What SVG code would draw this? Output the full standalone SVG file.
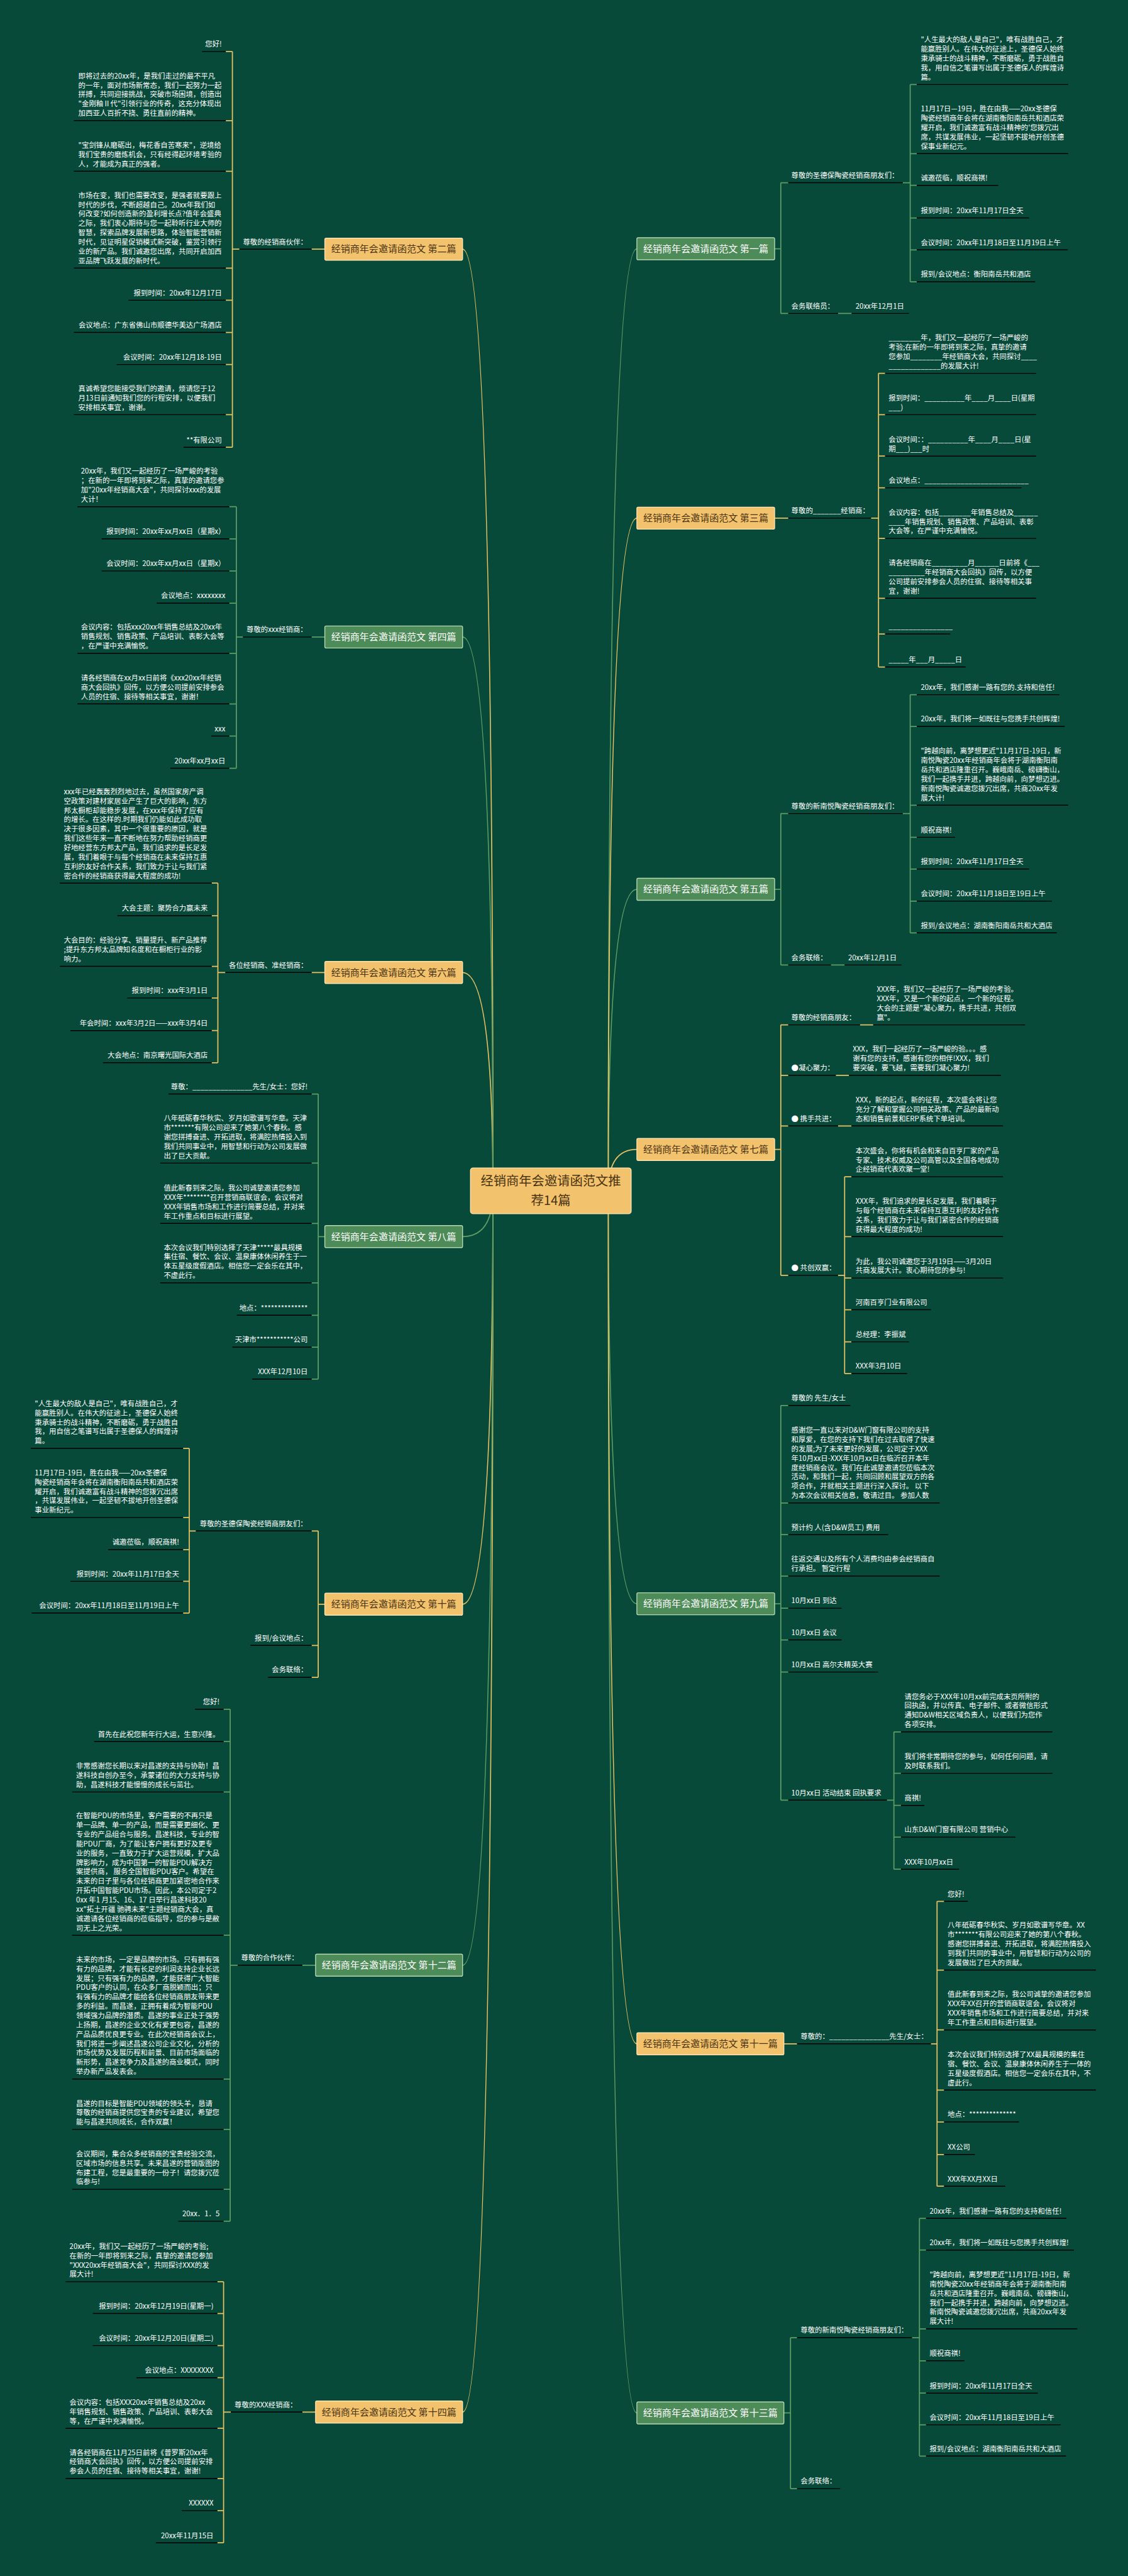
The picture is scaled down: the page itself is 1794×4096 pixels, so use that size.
<svg xmlns="http://www.w3.org/2000/svg" width="1794" height="4096" viewBox="0 0 1794 4096">
<style>
.t{font-family:"Noto Sans CJK SC","Noto Sans",sans-serif;font-size:16.3px;fill:#fff}
.e{text-anchor:end}
.u{stroke:#000;stroke-width:2;fill:none}
.cy{fill:none;stroke:#e8c262;stroke-width:2.5}
.cg{fill:none;stroke:#5e9e64;stroke-width:2.5}
.bo{fill:#f3c26c;stroke:#fae3b0;stroke-width:2}
.bg{fill:#4d8b58;stroke:#b5d8b0;stroke-width:2}
.bt{font-family:"Noto Sans CJK SC","Noto Sans",sans-serif;font-size:21.5px;text-anchor:middle}
.bto{fill:#4a3413}
.btg{fill:#fff}
</style>
<rect width="1794" height="4096" fill="#084a3a"/>
<g transform="scale(0.7)">
<g id="connectors">
<path class="cy" d="M1120 2705Q1120 566 1051 566M1120 2705Q1120 2209 1051 2209M1120 2705Q1120 3644 1051 3644M1120 2705Q1120 5479 1051 5479"/>
<path class="cg" d="M1120 2705Q1120 1447 1051 1447M1120 2705Q1120 2809 1051 2809M1120 2705Q1120 4464 1051 4464"/>
<path class="cg" d="M1382 2705Q1382 565 1447 565M1382 2705Q1382 2020 1447 2020M1382 2705Q1382 3643 1447 3643M1382 2705Q1382 5481 1447 5481"/>
<path class="cy" d="M1382 2705Q1382 1177 1447 1177M1382 2705Q1382 2611 1447 2611M1382 2705Q1382 4642.5 1447 4642.5"/>
<path class="cy" d="M528 117V1016M513 117H528M513 274H528M513 389H528M513 609H528M513 682H528M513 755H528M513 828H528M513 942H528M513 1016H528M528 566H544M708 566H738"/>
<path class="cg" d="M537 1151V1745M521 1151H537M521 1224H537M521 1297H537M521 1370H537M521 1484H537M521 1599H537M521 1672H537M521 1745H537M537 1447H552M708 1447H738"/>
<path class="cy" d="M495 2006V2414M481 2006H495M481 2080H495M481 2195H495M481 2267H495M481 2341H495M481 2414H495M495 2209H512M708 2209H738"/>
<path class="cg" d="M723 2485V3132.5M708 2485H723M708 2642H723M708 2779H723M708 2914H723M708 2987.5H723M708 3060H723M708 3132.5H723M723 2809H738"/>
<path class="cy" d="M430 3290V3664M416 3290H430M416 3447H430M416 3520H430M416 3592H430M416 3664H430M430 3477.5H445M723 3477.5V3810M708 3477.5H723M708 3737.5H723M708 3810H723M723 3644H738"/>
<path class="cg" d="M523 3882.5V5045.6M508 3882.5H523M508 3956H523M508 4070.6H523M508 4396H523M508 4722.5H523M508 4837H523M508 4973H523M508 5045.6H523M523 4464H540M687 4464H717"/>
<path class="cy" d="M508 5183V5776M494 5183H508M494 5255H508M494 5328H508M494 5401H508M494 5516H508M494 5630H508M494 5703H508M494 5776H508M508 5479H524.5M687 5479H717"/>
<path class="cg" d="M1760 565H1774M1774 415V712M1774 415H1791M1774 712H1791M1904 712H1935M2051 415H2068M2068 192V640M2068 192H2083M2068 349H2083M2068 421H2083M2068 495H2083M2068 567.5H2083M2068 640H2083"/>
<path class="cy" d="M1760 1177H1791M1979 1177H1996M1996 848V1515M1996 848H2011M1996 942H2011M1996 1036H2011M1996 1108H2011M1996 1223H2011M1996 1359H2011M1996 1440H2011M1996 1515H2011"/>
<path class="cg" d="M1760 2020H1774M1774 1848V2192M1774 1848H1791M1774 2192H1791M2051 1848H2068M1888 2192H1919M2068 1578V2119M2068 1578H2083M2068 1650H2083M2068 1829H2083M2068 1902H2083M2068 1974H2083M2068 2047H2083M2068 2119H2083"/>
<path class="cy" d="M1760 2611H1774M1774 2328V2897M1774 2328H1791M1774 2442.5H1791M1774 2557.5H1791M1774 2897H1791M1954 2328H1984M1899 2442.5H1929M1904 2557.5H1934.5M1904 2897H1919M1919 2673V3120M1919 2673H1934.5M1919 2809H1934.5M1919 2903H1934.5M1919 2975H1934.5M1919 3048H1934.5M1919 3120H1934.5"/>
<path class="cg" d="M1760 3643H1774M1774 3192.5V4089M1774 3192.5H1791M1774 3414H1791M1774 3486H1791M1774 3580H1791M1774 3653H1791M1774 3725H1791M1774 3798H1791M1774 4089H1791M2015 4089H2031M2031 3934V4246M2031 3934H2047M2031 4028H2047M2031 4101H2047M2031 4173H2047M2031 4246H2047"/>
<path class="cy" d="M1781 4642.5H1811M2115 4642.5H2129M2129 4319V4966M2129 4319H2145M2129 4475H2145M2129 4611H2145M2129 4747.5H2145M2129 4820H2145M2129 4894H2145M2129 4966H2145"/>
<path class="cg" d="M1781 5481H1796M1796 5310V5653M1796 5310H1811M1796 5653H1811M2072 5310H2089M2089 5039V5579M2089 5039H2104M2089 5111H2104M2089 5290H2104M2089 5362.5H2104M2089 5436H2104M2089 5508H2104M2089 5579H2104"/>
</g>

<g id="root"><rect x="1069" y="2653" width="365" height="104" rx="6" class="bo"/><text class="bt bto" style="font-size:29px" x="1251.5" y="2693">经销商年会邀请函范文推</text><text class="bt bto" style="font-size:29px" x="1251.5" y="2737">荐14篇</text></g>

<g id="b1"><rect x="1447" y="540" width="313" height="50" rx="3" class="bg"/><text class="bt btg" x="1603.5" y="572.5">经销商年会邀请函范文 第一篇</text></g>
<g id="b2"><rect x="738" y="541" width="313" height="50" rx="3" class="bo"/><text class="bt bto" x="894.5" y="573.5">经销商年会邀请函范文 第二篇</text></g>
<g id="b3"><rect x="1447" y="1152" width="313" height="50" rx="3" class="bo"/><text class="bt bto" x="1603.5" y="1184.5">经销商年会邀请函范文 第三篇</text></g>
<g id="b4"><rect x="738" y="1422" width="313" height="50" rx="3" class="bg"/><text class="bt btg" x="894.5" y="1454.5">经销商年会邀请函范文 第四篇</text></g>
<g id="b5"><rect x="1447" y="1995" width="313" height="50" rx="3" class="bg"/><text class="bt btg" x="1603.5" y="2027.5">经销商年会邀请函范文 第五篇</text></g>
<g id="b6"><rect x="738" y="2184" width="313" height="50" rx="3" class="bo"/><text class="bt bto" x="894.5" y="2216.5">经销商年会邀请函范文 第六篇</text></g>
<g id="b7"><rect x="1447" y="2586" width="313" height="50" rx="3" class="bo"/><text class="bt bto" x="1603.5" y="2618.5">经销商年会邀请函范文 第七篇</text></g>
<g id="b8"><rect x="738" y="2784" width="313" height="50" rx="3" class="bg"/><text class="bt btg" x="894.5" y="2816.5">经销商年会邀请函范文 第八篇</text></g>
<g id="b9"><rect x="1447" y="3618" width="313" height="50" rx="3" class="bg"/><text class="bt btg" x="1603.5" y="3650.5">经销商年会邀请函范文 第九篇</text></g>
<g id="b10"><rect x="738" y="3619" width="313" height="50" rx="3" class="bo"/><text class="bt bto" x="894.5" y="3651.5">经销商年会邀请函范文 第十篇</text></g>
<g id="b11"><rect x="1447" y="4617.5" width="334" height="50" rx="3" class="bo"/><text class="bt bto" x="1614" y="4650">经销商年会邀请函范文 第十一篇</text></g>
<g id="b12"><rect x="717" y="4439" width="334" height="50" rx="3" class="bg"/><text class="bt btg" x="884" y="4471.5">经销商年会邀请函范文 第十二篇</text></g>
<g id="b13"><rect x="1447" y="5456" width="334" height="50" rx="3" class="bg"/><text class="bt btg" x="1614" y="5488.5">经销商年会邀请函范文 第十三篇</text></g>
<g id="b14"><rect x="717" y="5454" width="334" height="50" rx="3" class="bo"/><text class="bt bto" x="884" y="5486.5">经销商年会邀请函范文 第十四篇</text></g>

<!-- 第二篇 -->
<g id="s2"><text class="t" x="552" y="555">尊敬的经销商伙伴：</text><path class="u" d="M544 566H708"/></g>
<g id="n2-1"><text class="t e" x="504" y="106">您好!</text><path class="u" d="M459 117H513"/></g>
<g id="n2-2"><text class="t" x="178"><tspan x="178" y="178.2">即将过去的20xx年，是我们走过的最不平凡</tspan><tspan x="178" y="199.4">的一年，面对市场新常态，我们一起努力一起</tspan><tspan x="178" y="220.6">拼搏，共同迎接挑战，突破市场困境，创造出</tspan><tspan x="178" y="241.8">"金刚釉Ⅱ代"引领行业的传奇，这充分体现出</tspan><tspan x="178" y="263">加西亚人百折不挠、勇往直前的精神。</tspan></text><path class="u" d="M168 274H513"/></g>
<g id="n2-3"><text class="t"><tspan x="178" y="335.6">"宝剑锋从磨砺出，梅花香自苦寒来"，逆境给</tspan><tspan x="178" y="356.8">我们宝贵的磨炼机会，只有经得起环境考验的</tspan><tspan x="178" y="378">人，才能成为真正的强者。</tspan></text><path class="u" d="M168 389H513"/></g>
<g id="n2-4"><text class="t"><tspan x="178" y="449.6">市场在变，我们也需要改变，是强者就要跟上</tspan><tspan x="178" y="470.8">时代的步伐，不断超越自己。20xx年我们如</tspan><tspan x="178" y="492">何改变?如何创造新的盈利增长点?值年会盛典</tspan><tspan x="178" y="513.2">之际，我们衷心期待与您一起聆听行业大师的</tspan><tspan x="178" y="534.4">智慧，探索品牌发展新思路，体验智能营销新</tspan><tspan x="178" y="555.6">时代，见证明星促销模式新突破，鉴赏引领行</tspan><tspan x="178" y="576.8">业的新产品。我们诚邀您出席，共同开启加西</tspan><tspan x="178" y="598">亚品牌飞跃发展的新时代。</tspan></text><path class="u" d="M168 609H513"/></g>
<g id="n2-5"><text class="t e" x="504" y="671">报到时间：20xx年12月17日</text><path class="u" d="M292 682H513"/></g>
<g id="n2-6"><text class="t e" x="504" y="744">会议地点：广东省佛山市顺德华美达广场酒店</text><path class="u" d="M168 755H513"/></g>
<g id="n2-7"><text class="t e" x="504" y="817">会议时间：20xx年12月18-19日</text><path class="u" d="M265 828H513"/></g>
<g id="n2-8"><text class="t"><tspan x="178" y="888.6">真诚希望您能接受我们的邀请，烦请您于12</tspan><tspan x="178" y="909.8">月13日前通知我们您的行程安排，以便我们</tspan><tspan x="178" y="931">安排相关事宜，谢谢。</tspan></text><path class="u" d="M168 942H513"/></g>
<g id="n2-9"><text class="t e" x="504" y="1005">**有限公司</text><path class="u" d="M417 1016H513"/></g>

<!-- 第四篇 -->
<g id="s4"><text class="t" x="560" y="1436">尊敬的xxx经销商：</text><path class="u" d="M552 1447H708"/></g>
<g id="n4-1"><text class="t"><tspan x="184" y="1076.4">20xx年，我们又一起经历了一场严峻的考验</tspan><tspan x="184" y="1097.6">；在新的一年即将到来之际，真挚的邀请您参</tspan><tspan x="184" y="1118.8">加"20xx年经销商大会"，共同探讨xxx的发展</tspan><tspan x="184" y="1140">大计！</tspan></text><path class="u" d="M176 1151H521"/></g>
<g id="n4-2"><text class="t e" x="512" y="1213">报到时间：20xx年xx月xx日（星期x）</text><path class="u" d="M231 1224H521"/></g>
<g id="n4-3"><text class="t e" x="512" y="1286">会议时间：20xx年xx月xx日（星期x）</text><path class="u" d="M231 1297H521"/></g>
<g id="n4-4"><text class="t e" x="512" y="1359">会议地点：xxxxxxxx</text><path class="u" d="M356 1370H521"/></g>
<g id="n4-5"><text class="t"><tspan x="184" y="1430.6">会议内容：包括xxx20xx年销售总结及20xx年</tspan><tspan x="184" y="1451.8">销售规划、销售政策、产品培训、表彰大会等</tspan><tspan x="184" y="1473">，在严谨中充满愉悦。</tspan></text><path class="u" d="M176 1484H521"/></g>
<g id="n4-6"><text class="t"><tspan x="184" y="1545.6">请各经销商在xx月xx日前将《xxx20xx年经销</tspan><tspan x="184" y="1566.8">商大会回执》回传，以方便公司提前安排参会</tspan><tspan x="184" y="1588">人员的住宿、接待等相关事宜，谢谢！</tspan></text><path class="u" d="M176 1599H521"/></g>
<g id="n4-7"><text class="t e" x="512" y="1661">xxx</text><path class="u" d="M480 1672H521"/></g>
<g id="n4-8"><text class="t e" x="512" y="1734">20xx年xx月xx日</text><path class="u" d="M387 1745H521"/></g>

<!-- 第六篇 -->
<g id="s6"><text class="t" x="520" y="2198">各位经销商、准经销商：</text><path class="u" d="M512 2209H708"/></g>
<g id="n6-1"><text class="t"><tspan x="145" y="1804.2">xxx年已经轰轰烈烈地过去，虽然国家房产调</tspan><tspan x="145" y="1825.4">空政策对建材家居业产生了巨大的影响，东方</tspan><tspan x="145" y="1846.6">邦太橱柜却能稳步发展，在xxx年保持了应有</tspan><tspan x="145" y="1867.8">的增长。在这样的.时期我们仍能如此成功取</tspan><tspan x="145" y="1889">决于很多因素，其中一个很重要的原因，就是</tspan><tspan x="145" y="1910.2">我们这些年来一直不断地在努力帮助经销商更</tspan><tspan x="145" y="1931.4">好地经营东方邦太产品，我们追求的是长足发</tspan><tspan x="145" y="1952.6">展，我们着眼于与每个经销商在未来保持互惠</tspan><tspan x="145" y="1973.8">互利的友好合作关系，我们致力于让与我们紧</tspan><tspan x="145" y="1995">密合作的经销商获得最大程度的成功!</tspan></text><path class="u" d="M136 2006H481"/></g>
<g id="n6-2"><text class="t e" x="472" y="2069">大会主题：聚势合力赢未来</text><path class="u" d="M267 2080H481"/></g>
<g id="n6-3"><text class="t"><tspan x="145" y="2141.6">大会目的：经验分享、销量提升、新产品推荐</tspan><tspan x="145" y="2162.8">;提升东方邦太品牌知名度和在橱柜行业的影</tspan><tspan x="145" y="2184">响力。</tspan></text><path class="u" d="M136 2195H481"/></g>
<g id="n6-4"><text class="t e" x="472" y="2256">报到时间：xxx年3月1日</text><path class="u" d="M289 2267H481"/></g>
<g id="n6-5"><text class="t e" x="472" y="2330">年会时间：xxx年3月2日——xxx年3月4日</text><path class="u" d="M160 2341H481"/></g>
<g id="n6-6"><text class="t e" x="472" y="2403">大会地点：南京曙光国际大酒店</text><path class="u" d="M234 2414H481"/></g>

<!-- 第八篇 -->
<g id="n8-1"><text class="t e" x="699" y="2474">尊敬：_______________先生/女士：您好!</text><path class="u" d="M383 2485H708"/></g>
<g id="n8-2"><text class="t"><tspan x="372" y="2546.2">八年砥砺春华秋实、岁月如歌谱写华章。天津</tspan><tspan x="372" y="2567.4">市*******有限公司迎来了她第八个春秋。感</tspan><tspan x="372" y="2588.6">谢您拼搏奋进、开拓进取，将满腔热情投入到</tspan><tspan x="372" y="2609.8">我们共同事业中，用智慧和行动为公司发展做</tspan><tspan x="372" y="2631">出了巨大贡献。</tspan></text><path class="u" d="M364 2642H708"/></g>
<g id="n8-3"><text class="t"><tspan x="372" y="2704.4">值此新春到来之际，我公司诚挚邀请您参加</tspan><tspan x="372" y="2725.6">XXX年********召开营销商联谊会，会议将对</tspan><tspan x="372" y="2746.8">XXX年销售市场和工作进行简要总结，并对来</tspan><tspan x="372" y="2768">年工作重点和目标进行展望。</tspan></text><path class="u" d="M364 2779H708"/></g>
<g id="n8-4"><text class="t"><tspan x="372" y="2839.4">本次会议我们特别选择了天津*****最具规模</tspan><tspan x="372" y="2860.6">集住宿、餐饮、会议、温泉康体休闲养生于一</tspan><tspan x="372" y="2881.8">体五星级度假酒店。相信您一定会乐在其中，</tspan><tspan x="372" y="2903">不虚此行。</tspan></text><path class="u" d="M364 2914H708"/></g>
<g id="n8-5"><text class="t e" x="699" y="2976.5">地点：**************</text><path class="u" d="M538 2987.5H708"/></g>
<g id="n8-6"><text class="t e" x="699" y="3049">天津市***********公司</text><path class="u" d="M528 3060H708"/></g>
<g id="n8-7"><text class="t e" x="699" y="3121.5">XXX年12月10日</text><path class="u" d="M573 3132.5H708"/></g>

<!-- 第十篇 -->
<g id="s10-1"><text class="t" x="454" y="3466.5">尊敬的圣德保陶瓷经销商朋友们：</text><path class="u" d="M445 3477.5H708"/></g>
<g id="s10-2"><text class="t e" x="699" y="3726.5">报到/会议地点：</text><path class="u" d="M569 3737.5H708"/></g>
<g id="s10-3"><text class="t e" x="699" y="3799">会务联络：</text><path class="u" d="M609 3810H708"/></g>
<g id="n10-1"><text class="t"><tspan x="79" y="3194.2">"人生最大的敌人是自己"，唯有战胜自己，才</tspan><tspan x="79" y="3215.4">能赢胜别人。在伟大的征途上，圣德保人始终</tspan><tspan x="79" y="3236.6">秉承骑士的战斗精神，不断磨砺，勇于战胜自</tspan><tspan x="79" y="3257.8">我，用自信之笔谱写出属于圣德保人的辉煌诗</tspan><tspan x="79" y="3279">篇。</tspan></text><path class="u" d="M70 3290H416"/></g>
<g id="n10-2"><text class="t"><tspan x="79" y="3351.2">11月17日-19日，胜在由我——20xx圣德保</tspan><tspan x="79" y="3372.4">陶瓷经销商年会将在湖南衡阳南岳共和酒店荣</tspan><tspan x="79" y="3393.6">耀开启，我们诚邀富有战斗精神的您拨冗出席</tspan><tspan x="79" y="3414.8">，共谋发展伟业，一起坚韧不拔地开创圣德保</tspan><tspan x="79" y="3436">事业新纪元。</tspan></text><path class="u" d="M70 3447H416"/></g>
<g id="n10-3"><text class="t e" x="407" y="3509">诚邀莅临，顺祝商祺!</text><path class="u" d="M246 3520H416"/></g>
<g id="n10-4"><text class="t e" x="407" y="3581">报到时间：20xx年11月17日全天</text><path class="u" d="M160 3592H416"/></g>
<g id="n10-5"><text class="t e" x="407" y="3653">会议时间：20xx年11月18日至11月19日上午</text><path class="u" d="M72 3664H416"/></g>

<!-- 第十二篇 -->
<g id="s12"><text class="t" x="548" y="4453">尊敬的合作伙伴：</text><path class="u" d="M540 4464H687"/></g>
<g id="n12-1"><text class="t e" x="499" y="3871.5">您好!</text><path class="u" d="M443 3882.5H508"/></g>
<g id="n12-2"><text class="t e" x="499" y="3945">首先在此祝您新年行大运，生意兴隆。</text><path class="u" d="M214 3956H508"/></g>
<g id="n12-3"><text class="t"><tspan x="173" y="4017.2">非常感谢您长期以来对昌遂的支持与协助！昌</tspan><tspan x="173" y="4038.4">遂科技自创办至今，承蒙诸位的大力支持与协</tspan><tspan x="173" y="4059.6">助，昌遂科技才能慢慢的成长与茁壮。</tspan></text><path class="u" d="M164 4070.6H508"/></g>
<g id="n12-4"><text class="t"><tspan x="173" y="4130.6">在智能PDU的市场里，客户需要的不再只是</tspan><tspan x="173" y="4151.8">单一品牌、单一的产品，而是需要更细化、更</tspan><tspan x="173" y="4173">专业的产品组合与服务。昌遂科技，专业的智</tspan><tspan x="173" y="4194.2">能PDU厂商，为了能让客户拥有更好及更专</tspan><tspan x="173" y="4215.4">业的服务，一直致力于扩大运营规模，扩大品</tspan><tspan x="173" y="4236.6">牌影响力，成为中国第一的智能PDU解决方</tspan><tspan x="173" y="4257.8">案提供商， 服务全国智能PDU客户。希望在</tspan><tspan x="173" y="4279">未来的日子里与各位经销商更加紧密地合作来</tspan><tspan x="173" y="4300.2">开拓中国智能PDU市场。因此，本公司定于2</tspan><tspan x="173" y="4321.4">0xx 年1 月15、16、17 日举行昌遂科技20</tspan><tspan x="173" y="4342.6">xx"拓土开疆 驰骋未来"主题经销商大会，真</tspan><tspan x="173" y="4363.8">诚邀请各位经销商的莅临指导，您的参与是敝</tspan><tspan x="173" y="4385">司无上之光荣。</tspan></text><path class="u" d="M164 4396H508"/></g>
<g id="n12-5"><text class="t"><tspan x="173" y="4457.1">未来的市场，一定是品牌的市场。只有拥有强</tspan><tspan x="173" y="4478.3">有力的品牌，才能有长足的利润支持企业长远</tspan><tspan x="173" y="4499.5">发展；只有强有力的品牌，才能获得广大智能</tspan><tspan x="173" y="4520.7">PDU客户的认同，在众多厂商脱颖而出；只</tspan><tspan x="173" y="4541.9">有强有力的品牌才能给各位经销商朋友带来更</tspan><tspan x="173" y="4563.1">多的利益。而昌遂，正拥有着成为智能PDU</tspan><tspan x="173" y="4584.3">领域强力品牌的潜质。昌遂的事业正处于强势</tspan><tspan x="173" y="4605.5">上扬期，昌遂的企业文化有爱更包容，昌遂的</tspan><tspan x="173" y="4626.7">产品品质优良更专业。在此次经销商会议上，</tspan><tspan x="173" y="4647.9">我们将进一步阐述昌遂公司企业文化，分析的</tspan><tspan x="173" y="4669.1">市场优势及发展历程和前景、目前市场面临的</tspan><tspan x="173" y="4690.3">新形势，昌遂竞争力及昌遂的商业模式，同时</tspan><tspan x="173" y="4711.5">举办新产品发表会。</tspan></text><path class="u" d="M164 4722.5H508"/></g>
<g id="n12-6"><text class="t"><tspan x="173" y="4783.6">昌遂的目标是智能PDU领域的领头羊，恳请</tspan><tspan x="173" y="4804.8">尊敬的经销商提供您宝贵的专业建议，希望您</tspan><tspan x="173" y="4826">能与昌遂共同成长，合作双赢！</tspan></text><path class="u" d="M164 4837H508"/></g>
<g id="n12-7"><text class="t"><tspan x="173" y="4898.4">会议期间，集合众多经销商的宝贵经验交流，</tspan><tspan x="173" y="4919.6">区域市场的信息共享。未来昌遂的营销版图的</tspan><tspan x="173" y="4940.8">布建工程，您是最重要的一份子！请您拨冗莅</tspan><tspan x="173" y="4962">临参与!</tspan></text><path class="u" d="M164 4973H508"/></g>
<g id="n12-8"><text class="t e" x="499" y="5034.6">20xx．1．5</text><path class="u" d="M405 5045.6H508"/></g>

<!-- 第十四篇 -->
<g id="s14"><text class="t" x="533" y="5468">尊敬的XXX经销商：</text><path class="u" d="M524.5 5479H687"/></g>
<g id="n14-1"><text class="t"><tspan x="158" y="5108.4">20xx年，我们又一起经历了一场严峻的考验;</tspan><tspan x="158" y="5129.6">在新的一年即将到来之际，真挚的邀请您参加</tspan><tspan x="158" y="5150.8">"XXX20xx年经销商大会"，共同探讨XXX的发</tspan><tspan x="158" y="5172">展大计!</tspan></text><path class="u" d="M149 5183H494"/></g>
<g id="n14-2"><text class="t e" x="485" y="5244">报到时间：20xx年12月19日(星期一)</text><path class="u" d="M211 5255H494"/></g>
<g id="n14-3"><text class="t e" x="485" y="5317">会议时间：20xx年12月20日(星期二)</text><path class="u" d="M211 5328H494"/></g>
<g id="n14-4"><text class="t e" x="485" y="5390">会议地点：XXXXXXXX</text><path class="u" d="M310 5401H494"/></g>
<g id="n14-5"><text class="t"><tspan x="158" y="5462.6">会议内容：包括XXX20xx年销售总结及20xx</tspan><tspan x="158" y="5483.8">年销售规划、销售政策、产品培训、表彰大会</tspan><tspan x="158" y="5505">等，在严谨中充满愉悦。</tspan></text><path class="u" d="M149 5516H494"/></g>
<g id="n14-6"><text class="t"><tspan x="158" y="5576.6">请各经销商在11月25日前将《普罗斯20xx年</tspan><tspan x="158" y="5597.8">经销商大会回执》回传，以方便公司提前安排</tspan><tspan x="158" y="5619">参会人员的住宿、接待等相关事宜，谢谢!</tspan></text><path class="u" d="M149 5630H494"/></g>
<g id="n14-7"><text class="t e" x="485" y="5692">XXXXXX</text><path class="u" d="M413 5703H494"/></g>
<g id="n14-8"><text class="t e" x="485" y="5765">20xx年11月15日</text><path class="u" d="M354 5776H494"/></g>

<!-- 第一篇 -->
<g id="s1-1"><text class="t" x="1798" y="404">尊敬的圣德保陶瓷经销商朋友们：</text><path class="u" d="M1791 415H2051"/></g>
<g id="s1-2"><text class="t" x="1798" y="701">会务联络员：</text><path class="u" d="M1791 712H1904"/></g>
<g id="n1-7"><text class="t" x="1944" y="701">20xx年12月1日</text><path class="u" d="M1935 712H2065"/></g>
<g id="n1-1"><text class="t"><tspan x="2092" y="96.2">"人生最大的敌人是自己"，唯有战胜自己，才</tspan><tspan x="2092" y="117.4">能赢胜别人。在伟大的征途上，圣德保人始终</tspan><tspan x="2092" y="138.6">秉承骑士的战斗精神，不断磨砺，勇于战胜自</tspan><tspan x="2092" y="159.8">我，用自信之笔谱写出属于圣德保人的辉煌诗</tspan><tspan x="2092" y="181">篇。</tspan></text><path class="u" d="M2083 192H2427"/></g>
<g id="n1-2"><text class="t"><tspan x="2092" y="253.2">11月17日—19日，胜在由我——20xx圣德保</tspan><tspan x="2092" y="274.4">陶瓷经销商年会将在湖南衡阳南岳共和酒店荣</tspan><tspan x="2092" y="295.6">耀开启，我们诚邀富有战斗精神的'您拨冗出</tspan><tspan x="2092" y="316.8">席，共谋发展伟业，一起坚韧不拔地开创圣德</tspan><tspan x="2092" y="338">保事业新纪元。</tspan></text><path class="u" d="M2083 349H2427"/></g>
<g id="n1-3"><text class="t" x="2092" y="410">诚邀莅临，顺祝商祺!</text><path class="u" d="M2083 421H2268"/></g>
<g id="n1-4"><text class="t" x="2092" y="484">报到时间：20xx年11月17日全天</text><path class="u" d="M2083 495H2338"/></g>
<g id="n1-5"><text class="t" x="2092" y="556.5">会议时间：20xx年11月18日至11月19日上午</text><path class="u" d="M2083 567.5H2426"/></g>
<g id="n1-6"><text class="t" x="2092" y="629">报到/会议地点：衡阳南岳共和酒店</text><path class="u" d="M2083 640H2352"/></g>

<!-- 第三篇 -->
<g id="s3"><text class="t" x="1798" y="1166">尊敬的_______经销商：</text><path class="u" d="M1791 1177H1979"/></g>
<g id="n3-1"><text class="t"><tspan x="2019" y="773.4">________年，我们又一起经历了一场严峻的</tspan><tspan x="2019" y="794.6">考验;在新的一年即将到来之际，真挚的邀请</tspan><tspan x="2019" y="815.8">您参加________年经销商大会，共同探讨____</tspan><tspan x="2019" y="837">_____________的发展大计!</tspan></text><path class="u" d="M2011 848H2354"/></g>
<g id="n3-2"><text class="t"><tspan x="2019" y="909.8">报到时间：__________年____月____日(星期</tspan><tspan x="2019" y="931">___)</tspan></text><path class="u" d="M2011 942H2354"/></g>
<g id="n3-3"><text class="t"><tspan x="2019" y="1003.8">会议时间：：__________年____月____日(星</tspan><tspan x="2019" y="1025">期___)___时</tspan></text><path class="u" d="M2011 1036H2354"/></g>
<g id="n3-4"><text class="t" x="2019" y="1097">会议地点：__________________________</text><path class="u" d="M2011 1108H2321"/></g>
<g id="n3-5"><text class="t"><tspan x="2019" y="1169.6">会议内容：包括________年销售总结及______</tspan><tspan x="2019" y="1190.8">____年销售规划、销售政策、产品培训、表彰</tspan><tspan x="2019" y="1212">大会等，在严谨中充满愉悦。</tspan></text><path class="u" d="M2011 1223H2354"/></g>
<g id="n3-6"><text class="t"><tspan x="2019" y="1284.4">请各经销商在_________月______日前将《___</tspan><tspan x="2019" y="1305.6">_________年经销商大会回执》回传，以方便</tspan><tspan x="2019" y="1326.8">公司提前安排参会人员的住宿、接待等相关事</tspan><tspan x="2019" y="1348">宜，谢谢!</tspan></text><path class="u" d="M2011 1359H2354"/></g>
<g id="n3-7"><text class="t" x="2019" y="1429">________________</text><path class="u" d="M2011 1440H2159"/></g>
<g id="n3-8"><text class="t" x="2019" y="1504">_____年___月_____日</text><path class="u" d="M2011 1515H2194"/></g>

<!-- 第五篇 -->
<g id="s5-1"><text class="t" x="1798" y="1837">尊敬的新南悦陶瓷经销商朋友们：</text><path class="u" d="M1791 1848H2051"/></g>
<g id="s5-2"><text class="t" x="1798" y="2181">会务联络：</text><path class="u" d="M1791 2192H1888"/></g>
<g id="n5-8"><text class="t" x="1927" y="2181">20xx年12月1日</text><path class="u" d="M1919 2192H2048"/></g>
<g id="n5-1"><text class="t" x="2092" y="1567">20xx年，我们感谢一路有您的.支持和信任!</text><path class="u" d="M2083 1578H2407"/></g>
<g id="n5-2"><text class="t" x="2092" y="1639">20xx年，我们将一如既往与您携手共创辉煌!</text><path class="u" d="M2083 1650H2419"/></g>
<g id="n5-3"><text class="t"><tspan x="2092" y="1712">"跨越向前，离梦想更近"11月17日-19日，新</tspan><tspan x="2092" y="1733.2">南悦陶瓷20xx年经销商年会将于湖南衡阳南</tspan><tspan x="2092" y="1754.4">岳共和酒店隆重召开。巍峨南岳、磅礴衡山，</tspan><tspan x="2092" y="1775.6">我们一起携手并进，跨越向前，向梦想迈进。</tspan><tspan x="2092" y="1796.8">新南悦陶瓷诚邀您拨冗出席，共商20xx年发</tspan><tspan x="2092" y="1818">展大计!</tspan></text><path class="u" d="M2083 1829H2427"/></g>
<g id="n5-4"><text class="t" x="2092" y="1891">顺祝商祺!</text><path class="u" d="M2083 1902H2170"/></g>
<g id="n5-5"><text class="t" x="2092" y="1963">报到时间：20xx年11月17日全天</text><path class="u" d="M2083 1974H2338"/></g>
<g id="n5-6"><text class="t" x="2092" y="2036">会议时间：20xx年11月18日至19日上午</text><path class="u" d="M2083 2047H2390"/></g>
<g id="n5-7"><text class="t" x="2092" y="2108">报到/会议地点：湖南衡阳南岳共和大酒店</text><path class="u" d="M2083 2119H2401"/></g>

<!-- 第七篇 -->
<g id="s7-1"><text class="t" x="1798" y="2317">尊敬的经销商朋友：</text><path class="u" d="M1791 2328H1954"/></g>
<g id="n7-1"><text class="t"><tspan x="1992" y="2253.4">XXX年，我们又一起经历了一场严峻的考验。</tspan><tspan x="1992" y="2274.6">XXX年，又是一个新的起点，一个新的征程。</tspan><tspan x="1992" y="2295.8">大会的主题是"凝心聚力，携手共进，共创双</tspan><tspan x="1992" y="2317">赢"。</tspan></text><path class="u" d="M1984 2328H2329"/></g>
<g id="s7-2"><text class="t" x="1798" y="2431.5">●凝心聚力：</text><path class="u" d="M1791 2442.5H1899"/></g>
<g id="n7-2"><text class="t"><tspan x="1937.5" y="2389.1">XXX，我们一起经历了一场严峻的验。。。感</tspan><tspan x="1937.5" y="2410.3">谢有您的支持，感谢有您的相伴!XXX，我们</tspan><tspan x="1937.5" y="2431.5">要突破，要飞越，需要我们凝心聚力!</tspan></text><path class="u" d="M1929 2442.5H2274"/></g>
<g id="s7-3"><text class="t" x="1798" y="2546.5">● 携手共进：</text><path class="u" d="M1791 2557.5H1904"/></g>
<g id="n7-3"><text class="t"><tspan x="1944" y="2504.1">XXX，新的起点，新的征程，本次盛会将让您</tspan><tspan x="1944" y="2525.3">充分了解和掌握公司相关政策、产品的最新动</tspan><tspan x="1944" y="2546.5">态和销售前景和ERP系统下单培训。</tspan></text><path class="u" d="M1934.5 2557.5H2279"/></g>
<g id="s7-4"><text class="t" x="1798" y="2886">● 共创双赢：</text><path class="u" d="M1791 2897H1904"/></g>
<g id="n7-4"><text class="t"><tspan x="1944" y="2619.6">本次盛会，你将有机会和来自百亨厂家的产品</tspan><tspan x="1944" y="2640.8">专家、技术权威及公司高管以及全国各地成功</tspan><tspan x="1944" y="2662">企经销商代表欢聚一堂!</tspan></text><path class="u" d="M1934.5 2673H2279"/></g>
<g id="n7-5"><text class="t"><tspan x="1944" y="2734.4">XXX年，我们追求的是长足发展，我们着眼于</tspan><tspan x="1944" y="2755.6">与每个经销商在未来保持互惠互利的友好合作</tspan><tspan x="1944" y="2776.8">关系，我们致力于让与我们紧密合作的经销商</tspan><tspan x="1944" y="2798">获得最大程度的成功!</tspan></text><path class="u" d="M1934.5 2809H2279"/></g>
<g id="n7-6"><text class="t"><tspan x="1944" y="2870.8">为此，我公司诚邀您于3月19日——3月20日</tspan><tspan x="1944" y="2892">共商发展大计。衷心期待您的参与!</tspan></text><path class="u" d="M1934.5 2903H2279"/></g>
<g id="n7-7"><text class="t" x="1944" y="2964">河南百亨门业有限公司</text><path class="u" d="M1934.5 2975H2115"/></g>
<g id="n7-8"><text class="t" x="1944" y="3037">总经理：李振斌</text><path class="u" d="M1934.5 3048H2065"/></g>
<g id="n7-9"><text class="t" x="1944" y="3109">XXX年3月10日</text><path class="u" d="M1934.5 3120H2061"/></g>

<!-- 第九篇 -->
<g id="n9-1"><text class="t" x="1798" y="3181.5">尊敬的 先生/女士</text><path class="u" d="M1791 3192.5H1932"/></g>
<g id="n9-2"><text class="t"><tspan x="1798" y="3254.6">感谢您一直以来对D&amp;W门窗有限公司的支持</tspan><tspan x="1798" y="3275.8">和厚爱，在您的支持下我们在过去取得了快速</tspan><tspan x="1798" y="3297">的发展;为了未来更好的发展，公司定于XXX</tspan><tspan x="1798" y="3318.2">年10月xx日-XXX年10月xx日在临沂召开本年</tspan><tspan x="1798" y="3339.4">度经销商会议。我们在此诚挚邀请您莅临本次</tspan><tspan x="1798" y="3360.6">活动，和我们一起，共同回顾和展望双方的各</tspan><tspan x="1798" y="3381.8">项合作，并就相关主题进行深入探讨。 以下</tspan><tspan x="1798" y="3403">为本次会议相关信息，敬请过目。 参加人数</tspan></text><path class="u" d="M1791 3414H2135"/></g>
<g id="n9-3"><text class="t" x="1798" y="3475">预计约 人(含D&amp;W员工) 费用</text><path class="u" d="M1791 3486H2018"/></g>
<g id="n9-4"><text class="t"><tspan x="1798" y="3547.8">往返交通以及所有个人消费均由参会经销商自</tspan><tspan x="1798" y="3569">行承担。 暂定行程</tspan></text><path class="u" d="M1791 3580H2135"/></g>
<g id="n9-5"><text class="t" x="1798" y="3642">10月xx日 到达</text><path class="u" d="M1791 3653H1912"/></g>
<g id="n9-6"><text class="t" x="1798" y="3714">10月xx日 会议</text><path class="u" d="M1791 3725H1912"/></g>
<g id="n9-7"><text class="t" x="1798" y="3787">10月xx日 高尔夫精英大赛</text><path class="u" d="M1791 3798H1995"/></g>
<g id="n9-8"><text class="t" x="1798" y="4078">10月xx日 活动结束 回执要求</text><path class="u" d="M1791 4089H2015"/></g>
<g id="n9-9"><text class="t"><tspan x="2055" y="3859.4">请您务必于XXX年10月xx前完成末页所附的</tspan><tspan x="2055" y="3880.6">回执函，并以传真、电子邮件、或者微信形式</tspan><tspan x="2055" y="3901.8">通知D&amp;W相关区域负责人，以便我们为您作</tspan><tspan x="2055" y="3923">各项安排。</tspan></text><path class="u" d="M2047 3934H2391"/></g>
<g id="n9-10"><text class="t"><tspan x="2055" y="3995.8">我们将非常期待您的参与，如何任何问题，请</tspan><tspan x="2055" y="4017">及时联系我们。</tspan></text><path class="u" d="M2047 4028H2391"/></g>
<g id="n9-11"><text class="t" x="2055" y="4090">商祺!</text><path class="u" d="M2047 4101H2100"/></g>
<g id="n9-12"><text class="t" x="2055" y="4162">山东D&amp;W门窗有限公司 营销中心</text><path class="u" d="M2047 4173H2307"/></g>
<g id="n9-13"><text class="t" x="2055" y="4235">XXX年10月xx日</text><path class="u" d="M2047 4246H2179"/></g>

<!-- 第十一篇 -->
<g id="s11"><text class="t" x="1819" y="4631.5">尊敬的：_______________先生/女士：</text><path class="u" d="M1811 4642.5H2115"/></g>
<g id="n11-1"><text class="t" x="2153" y="4308">您好!</text><path class="u" d="M2145 4319H2199"/></g>
<g id="n11-2"><text class="t"><tspan x="2153" y="4379.2">八年砥砺春华秋实、岁月如歌谱写华章。XX</tspan><tspan x="2153" y="4400.4">市*******有限公司迎来了她的第八个春秋。</tspan><tspan x="2153" y="4421.6">感谢您拼搏奋进、开拓进取，将满腔热情投入</tspan><tspan x="2153" y="4442.8">到我们共同的事业中，用智慧和行动为公司的</tspan><tspan x="2153" y="4464">发展做出了巨大的贡献。</tspan></text><path class="u" d="M2145 4475H2490"/></g>
<g id="n11-3"><text class="t"><tspan x="2153" y="4536.4">值此新春到来之际，我公司诚挚的邀请您参加</tspan><tspan x="2153" y="4557.6">XXX年XX召开的营销商联谊会，会议将对</tspan><tspan x="2153" y="4578.8">XXX年销售市场和工作进行简要总结，并对来</tspan><tspan x="2153" y="4600">年工作重点和目标进行展望。</tspan></text><path class="u" d="M2145 4611H2490"/></g>
<g id="n11-4"><text class="t"><tspan x="2153" y="4672.9">本次会议我们特别选择了XX最具规模的集住</tspan><tspan x="2153" y="4694.1">宿、餐饮、会议、温泉康体休闲养生于一体的</tspan><tspan x="2153" y="4715.3">五星级度假酒店。相信您一定会乐在其中，不</tspan><tspan x="2153" y="4736.5">虚此行。</tspan></text><path class="u" d="M2145 4747.5H2490"/></g>
<g id="n11-5"><text class="t" x="2153" y="4809">地点：**************</text><path class="u" d="M2145 4820H2315"/></g>
<g id="n11-6"><text class="t" x="2153" y="4883">XX公司</text><path class="u" d="M2145 4894H2215"/></g>
<g id="n11-7"><text class="t" x="2153" y="4955">XXX年XX月XX日</text><path class="u" d="M2145 4966H2284"/></g>

<!-- 第十三篇 -->
<g id="s13-1"><text class="t" x="1819" y="5299">尊敬的新南悦陶瓷经销商朋友们：</text><path class="u" d="M1811 5310H2072"/></g>
<g id="s13-2"><text class="t" x="1819" y="5642">会务联络：</text><path class="u" d="M1811 5653H1909"/></g>
<g id="n13-1"><text class="t" x="2112" y="5028">20xx年，我们感谢一路有您的支持和信任!</text><path class="u" d="M2104 5039H2423"/></g>
<g id="n13-2"><text class="t" x="2112" y="5100">20xx年，我们将一如既往与您携手共创辉煌!</text><path class="u" d="M2104 5111H2440"/></g>
<g id="n13-3"><text class="t"><tspan x="2112" y="5173">"跨越向前，离梦想更近"11月17日-19日，新</tspan><tspan x="2112" y="5194.2">南悦陶瓷20xx年经销商年会将于湖南衡阳南</tspan><tspan x="2112" y="5215.4">岳共和酒店隆重召开。巍峨南岳、磅礴衡山，</tspan><tspan x="2112" y="5236.6">我们一起携手并进，跨越向前，向梦想迈进。</tspan><tspan x="2112" y="5257.8">新南悦陶瓷诚邀您拨冗出席，共商20xx年发</tspan><tspan x="2112" y="5279">展大计!</tspan></text><path class="u" d="M2104 5290H2448"/></g>
<g id="n13-4"><text class="t" x="2112" y="5351.5">顺祝商祺!</text><path class="u" d="M2104 5362.5H2191"/></g>
<g id="n13-5"><text class="t" x="2112" y="5425">报到时间：20xx年11月17日全天</text><path class="u" d="M2104 5436H2358"/></g>
<g id="n13-6"><text class="t" x="2112" y="5497">会议时间：20xx年11月18日至19日上午</text><path class="u" d="M2104 5508H2410"/></g>
<g id="n13-7"><text class="t" x="2112" y="5568">报到/会议地点：湖南衡阳南岳共和大酒店</text><path class="u" d="M2104 5579H2422"/></g>
</g>
</svg>
